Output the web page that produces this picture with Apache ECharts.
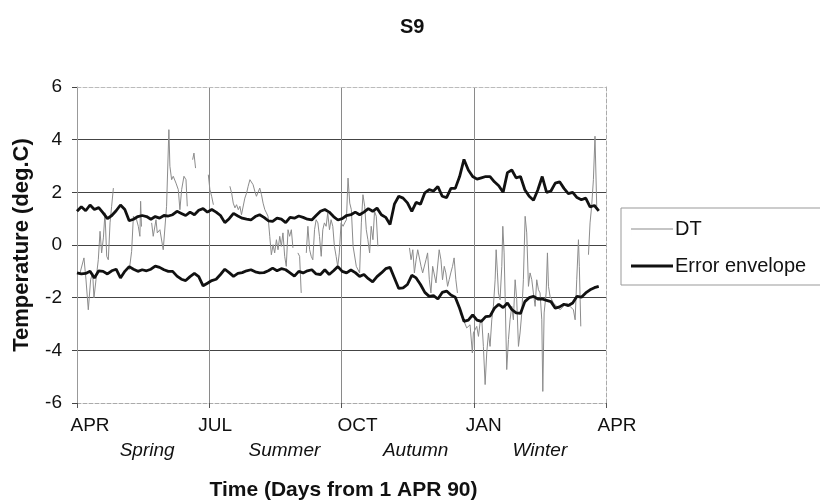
<!DOCTYPE html>
<html>
<head>
<meta charset="utf-8">
<script src="https://cdn.jsdelivr.net/npm/echarts@6/dist/echarts.min.js"></script>
<style>
html,body{margin:0;padding:0;background:#fff;}
#chart{width:820px;height:501px;}
</style>
</head>
<body>
<div id="chart"></div>
<script>
// ---- data ----
const titleText = 'S9';
const monthLabels = ['APR', 'JUL', 'OCT', 'JAN', 'APR'];
const seasonLabels = ['Spring', 'Summer', 'Autumn', 'Winter'];
const yTicks = [-6, -4, -2, 0, 2, 4, 6];

// error envelope, every 3 days (days from 1 APR 90)
const envDays = [
  0, 3, 6, 9, 12, 15, 18, 21, 24, 27,
  30, 33, 36, 39, 42, 45, 48, 51, 54, 57,
  60, 63, 66, 69, 72, 75, 78, 81, 84, 87,
  90, 93, 96, 99, 102, 105, 108, 111, 114, 117,
  120, 123, 126, 129, 132, 135, 138, 141, 144, 147,
  150, 153, 156, 159, 162, 165, 168, 171, 174, 177,
  180, 183, 186, 189, 192, 195, 198, 201, 204, 207,
  210, 213, 216, 219, 222, 225, 228, 231, 234, 237,
  240, 243, 246, 249, 252, 255, 258, 261, 264, 267,
  270, 273, 276, 279, 282, 285, 288, 291, 294, 297,
  300, 303, 306, 309, 312, 315, 318, 321, 324, 327,
  330, 333, 336, 339, 342, 345, 348, 351, 354, 357,
  360
];
const envUpper = [
  1.28, 1.45, 1.30, 1.52, 1.35, 1.42, 1.22, 1.00, 1.12, 1.30,
  1.52, 1.35, 0.92, 0.98, 1.08, 1.12, 1.08, 0.98, 1.08, 1.02,
  1.12, 1.10, 1.15, 1.28, 1.20, 1.12, 1.25, 1.15, 1.32, 1.38,
  1.25, 1.35, 1.25, 1.12, 0.85, 1.00, 1.20, 1.10, 1.02, 0.98,
  0.95, 1.08, 1.15, 1.05, 0.92, 0.90, 1.02, 0.98, 0.85, 1.05,
  1.02, 1.10, 1.05, 0.98, 0.95, 1.12, 1.28, 1.35, 1.25, 1.08,
  0.95, 1.00, 1.12, 1.15, 1.25, 1.15, 1.25, 1.38, 1.28, 1.40,
  1.15, 1.05, 0.78, 1.55, 1.85, 1.78, 1.60, 1.28, 1.62, 1.55,
  1.98, 2.10, 2.05, 2.22, 1.85, 1.80, 2.15, 2.15, 2.60, 3.25,
  2.85, 2.60, 2.50, 2.55, 2.60, 2.60, 2.40, 2.25, 2.00, 2.75,
  2.85, 2.55, 2.60, 2.10, 1.85, 1.70, 2.10, 2.60, 2.00, 2.05,
  2.35, 2.40, 2.15, 1.95, 2.00, 1.80, 1.72, 1.78, 1.45, 1.50,
  1.30
];
const envLower = [
  -1.06, -1.10, -1.08, -1.00, -1.25, -0.98, -1.00, -1.10, -0.98, -0.92,
  -1.25, -1.00, -0.82, -0.92, -1.00, -0.94, -0.98, -0.92, -0.80, -0.85,
  -0.94, -1.00, -1.00, -1.18, -1.30, -1.35, -1.20, -1.08, -1.20, -1.55,
  -1.45, -1.35, -1.30, -1.12, -0.92, -1.05, -1.19, -1.08, -1.05, -0.98,
  -0.94, -1.02, -1.06, -1.05, -0.98, -0.88, -0.98, -0.90, -0.94, -1.06,
  -1.18, -1.00, -1.06, -0.98, -0.94, -1.10, -1.12, -0.94, -1.12, -0.98,
  -0.82, -1.00, -1.06, -0.95, -1.05, -1.19, -1.12, -1.28, -1.40, -1.20,
  -1.06, -0.90, -0.85, -1.25, -1.65, -1.63, -1.50, -1.15, -1.25, -1.50,
  -1.80, -1.95, -1.92, -2.05, -1.80, -1.75, -1.90, -1.98, -2.40, -2.90,
  -2.85, -2.65, -2.85, -2.90, -2.72, -2.70, -2.40, -2.25, -2.38, -2.20,
  -2.45, -2.58, -2.60, -2.15, -2.00, -1.95, -2.05, -2.05, -2.10, -2.15,
  -2.40, -2.35, -2.25, -2.30, -2.20, -1.95, -1.98, -1.82, -1.70, -1.62,
  -1.57
];

// DT (null = missing data)
const dtDays = [
  2.1, 4.8, 6.2, 7.8, 9.4, 10.8, 11.7, 13.1, 14.7, 15.9, 17.0, 18.2, 19.3, 20.5, 21.6, 22.8, 23.9, 25.1, 30,
  36.1, 37.7, 38.9, 41.1, 42.3, 43.4, 43.9, 44.5, 48,
  51.5, 52.6, 54.5, 55.4, 57.2, 59.5, 61.8, 63.4, 64.1, 65.3, 66.4, 68.3, 69.9, 71.0, 72.2, 73.8, 75.2, 76.1, 78,
  79.8, 80.7, 81.8, 86,
  90.6, 91.7, 92.9, 94.1, 100,
  105.5, 106.7, 107.8, 109.0, 110.1, 111.3, 112.4, 113.5, 115.8, 117.0, 118.1, 119.3, 120.4, 121.5, 122.7, 123.8,
  125.0, 126.1, 127.3, 128.4, 129.6, 130.7, 131.8, 133.0, 134.1, 135.3, 136.4, 137.6, 138.7, 139.9, 141.0, 142.1,
  143.3, 144.4, 145.6, 146.7, 147.9, 149.0, 151,
  152.4, 153.6, 154.7, 156,
  158.2, 159.3, 160.5, 161.6, 162.7, 163.9, 165.0, 166.2, 167.3, 168.5, 169.6, 170.7, 171.9, 173.0, 174.2, 175.3,
  176.5, 177.6, 178.8, 179.9, 181.0, 182.2, 183.6, 184.7, 185.9, 187.0, 188.2, 189.3, 190.5, 192.7, 195.0, 196.2,
  197.3, 198.5, 199.6, 200.7, 201.9, 203.0, 204.2, 205.3, 206.5, 207.6, 218,
  229.4, 230.5, 231.7, 232.8, 234.0, 235.1, 236.2, 237.4, 238.5, 240.8, 241.9, 243.1, 244.2, 245.4, 247.7, 249.9,
  251.1, 252.2, 253.4, 254.5, 255.7, 256.8, 257.9, 259.1, 260.2, 261.4, 262.5, 263.5,
  264.3, 266.6, 268.9, 271.2, 272.8, 273.5, 275.8, 277.0, 278.1, 279.3, 280.4, 281.6, 282.7, 283.9, 285.0, 286.2,
  287.3, 288.5, 289.2, 290.1, 290.8, 291.9, 293.1, 293.8, 294.7, 295.4, 296.5, 297.7, 298.8, 300.0, 301.1, 302.3,
  303.4, 304.6, 305.7, 306.9, 308.0, 309.2, 310.3, 311.5, 312.6, 313.8, 314.9, 316.1, 317.2, 318.4, 319.5, 320.7,
  321.4, 322.3, 323.7, 324.6, 325.3, 326.4, 328.7, 331.0, 333.3, 335.6, 337.9, 340.2, 342.5, 343.7, 344.8, 346.0,
  346.6, 347.6, 350,
  352.9, 354.0, 355.1, 356.3, 357.4, 358.6
];
const dtTemps = [
  -1.06, -0.49, -1.32, -2.46, -1.32, -1.06, -2.01, -1.32, -0.56, 0.52, -0.30, 0.27, 1.22, -0.43, -0.56, 0.84, 1.47, 2.16, null,
  -0.94, -0.24, 1.09, 0.96, 0.71, 0.33, 1.66, 0.70, null,
  0.84, 0.33, 0.96, 0.46, 0.58, -0.18, 1.47, 4.38, 2.99, 2.48, 2.61, 2.35, 2.10, 1.34, 2.10, 2.61, 2.48, 1.47, null,
  3.24, 3.49, 2.92, null,
  2.67, 2.10, 1.85, 1.53, null,
  2.23, 1.97, 1.59, 1.41, 1.53, 1.34, 1.47, 1.15, 1.78, 1.97, 2.23, 2.48, 2.54, 2.29, 2.04, 1.85,
  1.78, 2.16, 1.91, 1.59, 1.34, 1.22, 1.09, 0.33, -0.37, 0.01, -0.30, 0.20, -0.18, 0.33, -0.05, 0.46,
  -0.43, -0.81, 0.58, 0.33, 0.58, -0.11, null,
  -0.30, -0.43, -1.82, null,
  -0.30, 0.71, -0.18, -0.43, -0.56, 0.58, 0.96, 0.84, 0.33, -0.43, 0.58, 0.84, 0.71, 1.22, 0.58, 0.96,
  0.71, -0.05, -0.43, -0.81, -0.30, 0.84, 0.71, 0.84, 0.96, 2.54, 1.59, 1.34, -0.05, -0.81, -1.06, 0.84,
  1.91, 1.47, 0.58, 0.20, -0.30, 0.71, 0.20, 1.28, 1.09, -0.05, null,
  -0.11, -0.56, -0.18, -1.06, -0.56, -0.18, -0.24, -0.81, -1.06, -0.56, -0.30, -1.32, -1.82, -0.81, -1.44, -0.18,
  -0.56, -1.32, -0.81, -1.06, -1.57, -1.32, -1.06, -0.81, -0.49, -1.32, -1.82, null,
  -2.58, -2.84, -3.15, -3.03, -4.10, -3.34, -3.09, -3.47, -2.96, -2.84, -3.85, -5.30, -4.10, -3.34, -3.85, -2.84,
  -2.33, -1.32, -0.18, -1.06, -1.82, -2.08, -0.81, 0.71, -0.30, -1.95, -4.73, -3.59, -2.84, -2.33, -2.84, -1.32,
  -2.08, -3.85, -3.34, -2.58, -1.32, 1.09, 0.46, -1.57, -1.06, -1.32, -1.82, -2.33, -1.32, -1.70, -1.82, -2.84,
  -5.56, -2.58, -1.82, -0.30, -1.57, -1.95, -2.20, -2.33, -2.46, -2.33, -2.20, -2.33, -2.46, -2.84, -1.32, 0.20,
  -0.81, -3.09, null,
  -0.37, 0.84, 1.47, 2.48, 4.13, 1.47
];

// ---- build ----
const envUpperData = envDays.map((d, i) => [d, envUpper[i]]);
const envLowerData = envDays.map((d, i) => [d, envLower[i]]);
const dtData = dtDays.map((d, i) => [d, dtTemps[i] === null ? '-' : dtTemps[i]]);

const FONT = '"Liberation Sans", Arial, sans-serif';
const chart = echarts.init(document.getElementById('chart'), null, { renderer: 'canvas' });
const quarter = 365 / 4;
// legend line icons: invisible bounding stroke + a horizontal band of given thickness
const thinIcon = 'path://M0,0 L0,14 L0.01,14 L0.01,0 Z M0,6.5 L42,6.5 L42,7.5 L0,7.5 Z';
const thickIcon = 'path://M0,0 L0,14 L0.01,14 L0.01,0 Z M0,5.6 L42,5.6 L42,8.4 L0,8.4 Z';

const TICK_FS = 19;
const monthRich = {
  m0: { fontFamily: FONT, fontSize: TICK_FS, color: '#111', padding: [0, 0, 0, 26] },
  m1: { fontFamily: FONT, fontSize: TICK_FS, color: '#111', padding: [0, 0, 0, 12] },
  m2: { fontFamily: FONT, fontSize: TICK_FS, color: '#111', padding: [0, 0, 0, 32] },
  m3: { fontFamily: FONT, fontSize: TICK_FS, color: '#111', padding: [0, 0, 0, 20] },
  m4: { fontFamily: FONT, fontSize: TICK_FS, color: '#111', padding: [0, 0, 0, 22] }
};
const seasonRich = {
  s0: { fontFamily: FONT, fontSize: TICK_FS, fontStyle: 'italic', color: '#111', padding: [0, 0, 0, 8] },
  s1: { fontFamily: FONT, fontSize: TICK_FS, fontStyle: 'italic', color: '#111', padding: [0, 0, 0, 18] },
  s2: { fontFamily: FONT, fontSize: TICK_FS, fontStyle: 'italic', color: '#111', padding: [0, 0, 0, 16] },
  s3: { fontFamily: FONT, fontSize: TICK_FS, fontStyle: 'italic', color: '#111', padding: [0, 0, 0, 0] }
};

chart.setOption({
  animation: false,
  backgroundColor: '#fff',
  title: {
    text: titleText,
    left: 395, top: 12,
    textStyle: { fontFamily: FONT, fontSize: 20, fontWeight: 'bold', color: '#111' }
  },
  legend: {
    orient: 'vertical',
    left: 621, top: 208,
    width: 260,
    padding: [11, 60, 9, 10],
    itemGap: 17,
    itemWidth: 42, itemHeight: 14,
    borderColor: '#999', borderWidth: 1,
    textStyle: { fontFamily: FONT, fontSize: 20, color: '#111', padding: [0, 0, 0, -3] },
    data: [
      { name: 'DT', icon: thinIcon, itemStyle: { color: '#8c8c8c' } },
      { name: 'Error envelope', icon: thickIcon, itemStyle: { color: '#111' } }
    ]
  },
  grid: { left: 77, right: 214, top: 87, bottom: 98, containLabel: false, outerBoundsMode: 'none' },
  xAxis: [
    {
      type: 'value', min: 0, max: 365, interval: quarter,
      position: 'bottom',
      name: 'Time (Days from 1 APR 90)',
      nameLocation: 'middle', nameGap: 77,
      nameTextStyle: { fontFamily: FONT, fontSize: 21, fontWeight: 'bold', color: '#111', padding: [0, 0, 0, 4] },
      axisLine: { show: true, onZero: false, lineStyle: { color: '#aaa', type: 'dashed', width: 1 } },
      axisTick: { show: true, length: 5, lineStyle: { color: '#555' } },
      axisLabel: {
        margin: 13,
        showMinLabel: true, showMaxLabel: true,
        formatter: v => { const k = Math.round(v / quarter); return '{m' + k + '|' + monthLabels[k] + '}'; },
        rich: monthRich
      },
      splitLine: { show: true, showMinLine: false, showMaxLine: false, lineStyle: { color: '#8a8a8a', width: 1 } }
    },
    {
      type: 'category', data: seasonLabels, boundaryGap: true,
      position: 'bottom',
      axisLine: { show: false, onZero: false }, axisTick: { show: false }, splitLine: { show: false },
      axisLabel: {
        margin: 38, interval: 0,
        formatter: (v, i) => '{s' + i + '|' + v + '}',
        rich: seasonRich
      }
    },
    {
      type: 'value', min: 0, max: 365, position: 'top',
      axisLine: { show: true, onZero: false, lineStyle: { color: '#bbb', type: 'dashed', width: 1 } },
      axisTick: { show: false }, axisLabel: { show: false }, splitLine: { show: false }
    }
  ],
  yAxis: [
    {
      type: 'value', min: -6, max: 6, interval: 2,
      name: 'Temperature (deg.C)',
      nameLocation: 'middle', nameGap: 44, nameRotate: 90,
      nameTextStyle: { fontFamily: FONT, fontSize: 22, fontWeight: 'bold', color: '#111' },
      axisLine: { show: true, onZero: false, lineStyle: { color: '#999', width: 1 } },
      axisTick: { show: true, length: 5, lineStyle: { color: '#444' } },
      axisLabel: { fontFamily: FONT, fontSize: TICK_FS, color: '#111', margin: 15 },
      splitLine: { show: true, showMinLine: false, showMaxLine: false, lineStyle: { color: '#444', width: 1 } }
    },
    {
      type: 'value', min: -6, max: 6, position: 'right',
      axisLine: { show: true, onZero: false, lineStyle: { color: '#aaa', type: 'dashed', width: 1 } },
      axisTick: { show: false }, axisLabel: { show: false }, splitLine: { show: false }
    }
  ],
  series: [
    {
      name: 'DT', type: 'line', data: dtData, connectNulls: false,
      symbol: 'none', showSymbol: false,
      lineStyle: { color: '#8c8c8c', width: 1 }, itemStyle: { color: '#8c8c8c' },
      z: 2
    },
    {
      name: 'Error envelope', type: 'line', data: envUpperData,
      symbol: 'none', showSymbol: false,
      lineStyle: { color: '#111', width: 2.8 }, itemStyle: { color: '#111' },
      z: 3
    },
    {
      name: 'Error envelope', type: 'line', data: envLowerData,
      symbol: 'none', showSymbol: false,
      lineStyle: { color: '#111', width: 2.8 }, itemStyle: { color: '#111' },
      z: 3
    }
  ]
});
</script>
</body>
</html>
